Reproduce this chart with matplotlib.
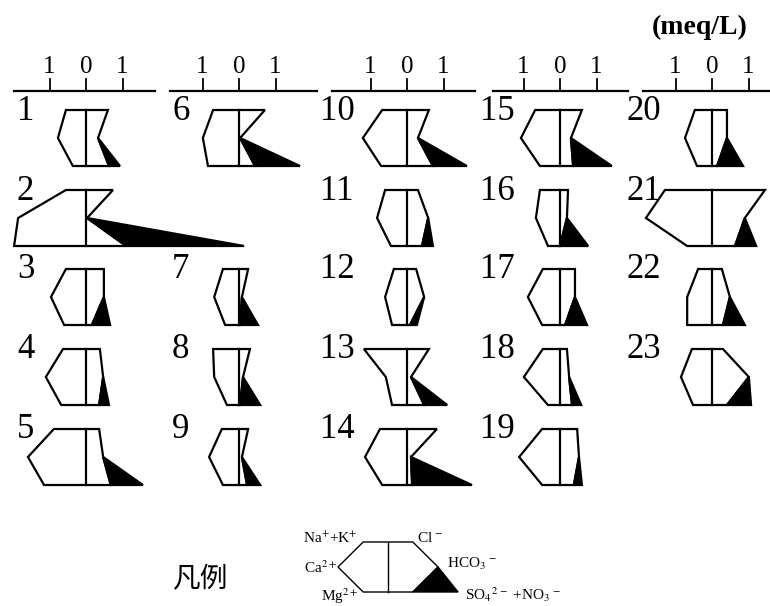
import matplotlib.pyplot as plt
from matplotlib.patches import Polygon

plt.rcParams['font.family'] = ['Liberation Serif', 'DejaVu Serif']
plt.rcParams['mathtext.fontset'] = 'stix'

# Stiff diagram values, meq/L
samples = list(range(1, 24))
na_k = [0.55, 0.55, 0.55, 0.63, 0.88, 0.71, 0.44, 0.71, 0.47, 0.68, 0.60, 0.36,
        1.18, 0.74, 0.68, 0.55, 0.47, 0.47, 0.49, 0.47, 1.29, 0.38, 0.55]
ca = [0.77, 1.86, 0.96, 1.10, 1.59, 0.99, 0.68, 0.68, 0.82, 1.21, 0.82, 0.60,
      0.58, 1.15, 1.07, 0.66, 0.88, 0.99, 1.12, 0.74, 1.81, 0.68, 0.85]
mg = [0.36, 1.97, 0.60, 0.68, 1.15, 0.85, 0.38, 0.33, 0.44, 0.71, 0.44, 0.41,
      0.41, 0.68, 0.55, 0.33, 0.49, 0.33, 0.49, 0.41, 0.68, 0.68, 0.52]
cl = [0.60, 0.74, 0.49, 0.38, 0.36, 0.71, 0.25, 0.30, 0.25, 0.60, 0.30, 0.25,
      0.60, 0.82, 0.60, 0.22, 0.41, 0.19, 0.47, 0.41, 1.45, 0.27, 0.30]
hco3 = [0.33, 0.03, 0.49, 0.47, 0.47, 0.03, 0.08, 0.11, 0.08, 0.30, 0.58, 0.47,
        0.11, 0.11, 0.30, 0.19, 0.41, 0.25, 0.52, 0.41, 0.90, 0.49, 1.01]
so4 = [0.63, 1.10, 0.16, 0.36, 0.68, 0.44, 0.03, 0.03, 0.22, 0.71, 0.41, 0.08,
       0.47, 0.14, 0.36, 0.00, 0.14, 0.33, 0.38, 0.14, 0.63, 0.30, 0.41]
so4_no3 = [0.93, 4.33, 0.66, 0.63, 1.56, 1.67, 0.52, 0.58, 0.58, 1.64, 0.71, 0.27,
           1.10, 1.78, 1.42, 0.77, 0.74, 0.58, 0.60, 0.85, 1.21, 0.90, 1.07]
sample_col = [0, 0, 0, 0, 0, 1, 1, 1, 1, 2, 2, 2, 2, 2, 3, 3, 3, 3, 3, 4, 4, 4, 4]
sample_row = [0, 1, 2, 3, 4, 0, 2, 3, 4, 0, 1, 2, 3, 4, 0, 1, 2, 3, 4, 0, 1, 2, 3]

# legend example shape
legend_vals = [0.68, 1.37, 0.68, 0.68, 1.37, 0.68, 1.92]

# layout (pixels)
SCALE = 36.5
col_center = [86, 239, 407, 560, 712]
col_axis = [(14, 155), (170, 317), (332, 475), (493, 628), (643, 770)]
col_label_x = [17, 172, 320, 480, 627]
row_top = [110, 190, 269, 349, 429]
H = 56
AXIS_Y = 91


def stiff(ax, cx, top, h, vals, lw):
    n, c, m, l, h3, s, t = [v * SCALE for v in vals]
    mid = top + h / 2
    bot = top + h
    white = [(cx, top), (cx + l, top), (cx + h3, mid), (cx + s, bot),
             (cx - m, bot), (cx - c, mid), (cx - n, top)]
    ax.add_patch(Polygon(white, closed=True, facecolor='white', edgecolor='black',
                         lw=lw, joinstyle='miter', zorder=2))
    tri = [(cx + h3, mid), (cx + t, bot), (cx + s, bot)]
    ax.add_patch(Polygon(tri, closed=True, facecolor='black', edgecolor='black',
                         lw=lw, joinstyle='miter', zorder=3))
    ax.plot([cx, cx], [top, bot], color='black', lw=lw, zorder=4)


fig = plt.figure(figsize=(7.7, 6.06), dpi=100)
ax = fig.add_axes([0, 0, 1, 1])
ax.set_xlim(0, 770)
ax.set_ylim(606, 0)
ax.axis('off')

# scale bars
for c in range(5):
    x0, x1 = col_axis[c]
    cx = col_center[c]
    ax.plot([x0, x1], [AXIS_Y, AXIS_Y], color='black', lw=1.6)
    for k, lab in zip([-1, 0, 1], ['1', '0', '1']):
        xt = cx + k * SCALE
        ax.plot([xt, xt], [AXIS_Y - 12, AXIS_Y], color='black', lw=1.3)
        ax.text(xt, 67, lab, fontsize=18, ha='center', va='center')

ax.text(700, 27, '(meq/L)', fontsize=20, fontweight='bold', ha='center', va='center')

for i, s in enumerate(samples):
    c, r = sample_col[i], sample_row[i]
    vals = [na_k[i], ca[i], mg[i], cl[i], hco3[i], so4[i], so4_no3[i]]
    stiff(ax, col_center[c], row_top[r], H, vals, 1.6)
    ax.text(col_label_x[c], row_top[r] + 1, str(s), fontsize=25,
            ha='left', va='center', zorder=5)

# legend
lcx, ltop, lh = 388, 542, 50
stiff(ax, lcx, ltop, lh, legend_vals, 1.0)
ax.text(172, 578, '凡例', fontsize=20, family=['Noto Sans CJK SC', 'DejaVu Sans'],
        ha='left', va='center')
ax.text(358, 538, r'Na$^{+}$+K$^{+}$', fontsize=11, ha='right', va='center')
ax.text(337, 568, r'Ca$^{2+}$', fontsize=11, ha='right', va='center')
ax.text(358, 596, r'Mg$^{2+}$', fontsize=11, ha='right', va='center')
ax.text(417, 538, r'Cl$^{\,-}$', fontsize=11, ha='left', va='center')
ax.text(447, 564, r'HCO$_3$$^{\,-}$', fontsize=11, ha='left', va='center')
ax.text(465, 595, r'SO$_4$$^{2\,-}$ +NO$_3$$^{\,-}$', fontsize=11, ha='left', va='center')

fig.savefig('out.png', dpi=100)
